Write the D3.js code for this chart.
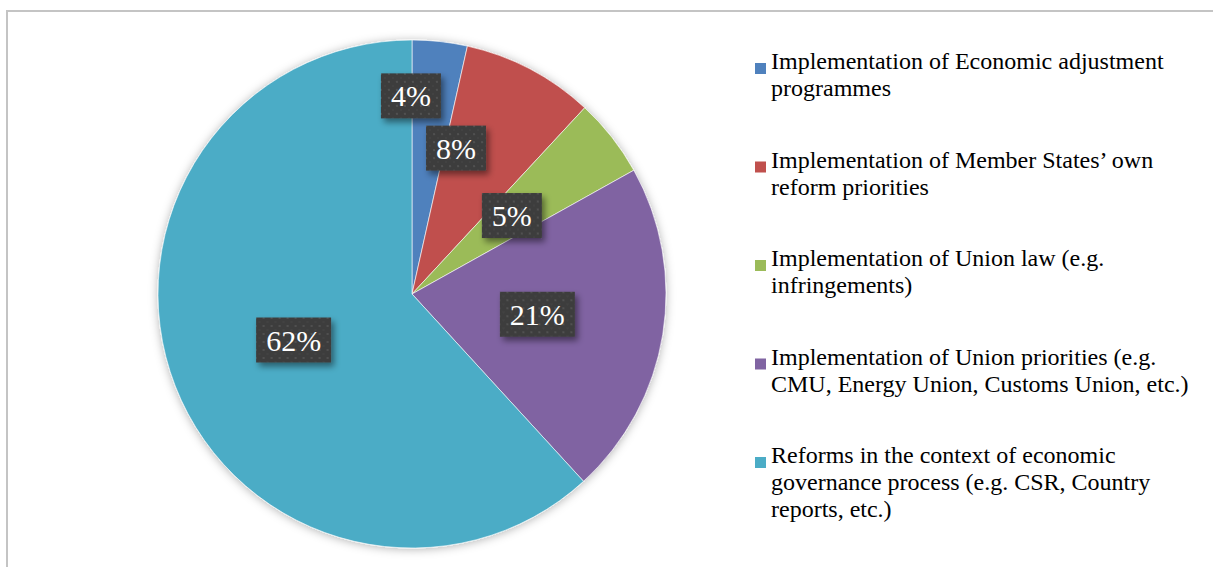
<!DOCTYPE html>
<html>
<head>
<meta charset="utf-8">
<script src="https://cdn.jsdelivr.net/npm/d3@7"></script>
<style>
  html, body { margin: 0; padding: 0; background: #fff; }
  svg { display: block; font-family: "Liberation Serif", "Times New Roman", serif; }
</style>
</head>
<body>
<div id="chart"></div>
<script>
// data
const categories = [
  "Implementation of Economic adjustment programmes",
  "Implementation of Member States\u2019 own reform priorities",
  "Implementation of Union law (e.g. infringements)",
  "Implementation of Union priorities (e.g. CMU, Energy Union, Customs Union, etc.)",
  "Reforms in the context of economic governance process (e.g. CSR, Country reports, etc.)"
];
const shares = [3.5, 8.4, 5.0, 21.3, 61.8];
const colors = ["#4F81BD", "#C0504D", "#9BBB59", "#8064A2", "#4BACC6"];

// excel "best fit" moved the two small labels, others sit at mid angle
const labelPlace = [{ deg: -0.3, f: 0.78 }, { deg: 16.8, f: 0.6 }, null, null, null];

const W = 1213, H = 567;
const cx = 412, cy = 294, R = 254;

const svg = d3.select("#chart").append("svg")
  .attr("width", W)
  .attr("height", H);

const defs = svg.append("defs");

// soft glow round the pie
const pf = defs.append("filter").attr("id", "pieShadow")
  .attr("x", "-10%").attr("y", "-10%").attr("width", "120%").attr("height", "120%");
pf.append("feDropShadow").attr("dx", 0).attr("dy", 1).attr("stdDeviation", 5)
  .attr("flood-color", "#000").attr("flood-opacity", 0.3);

const lf = defs.append("filter").attr("id", "lblShadow")
  .attr("x", "-20%").attr("y", "-30%").attr("width", "150%").attr("height", "170%");
lf.append("feDropShadow").attr("dx", 3).attr("dy", 4).attr("stdDeviation", 3)
  .attr("flood-color", "#000").attr("flood-opacity", 0.45);

// dotted texture of the label boxes
const pat = defs.append("pattern").attr("id", "dots")
  .attr("patternUnits", "userSpaceOnUse").attr("width", 8).attr("height", 8);
pat.append("rect").attr("width", 8).attr("height", 8).attr("fill", "#3d3d3d");
pat.append("circle").attr("cx", 2).attr("cy", 2).attr("r", 1.1).attr("fill", "#555");
pat.append("circle").attr("cx", 6).attr("cy", 6).attr("r", 0.8).attr("fill", "#4a4a4a");

// chart frame (only top & left edges are in the picture)
svg.append("path")
  .attr("d", `M7,${H} V11 H${W}`)
  .attr("fill", "none")
  .attr("stroke", "#c4c4c4")
  .attr("stroke-width", 2);

const pie = d3.pie().sort(null).value(d => d);
const arcs = pie(shares);
const arc = d3.arc().innerRadius(0).outerRadius(R);

const g = svg.append("g").attr("transform", `translate(${cx},${cy})`);

g.append("g").attr("filter", "url(#pieShadow)")
  .selectAll("path")
  .data(arcs)
  .join("path")
  .attr("d", arc)
  .attr("fill", (d, i) => colors[i])
  .attr("stroke", "#fff")
  .attr("stroke-width", 0.6);

// data labels
const fmt = d => Math.round(d) + "%";
const lbl = g.selectAll("g.lbl")
  .data(arcs)
  .join("g")
  .attr("class", "lbl")
  .attr("transform", (d, i) => {
    const p = labelPlace[i];
    const a = p ? p.deg * Math.PI / 180 : (d.startAngle + d.endAngle) / 2;
    const r = (p ? p.f : 0.5) * R;
    return `translate(${r * Math.sin(a)},${-r * Math.cos(a)})`;
  });

lbl.each(function(d) {
  const sel = d3.select(this);
  const t = sel.append("text")
    .attr("text-anchor", "middle")
    .attr("dy", "0.35em")
    .attr("font-size", 30)
    .attr("fill", "#fff")
    .text(fmt(d.data));
  const tw = t.node().getComputedTextLength();
  const bw = tw + 20, bh = 45;
  sel.insert("rect", "text")
    .attr("x", -bw / 2).attr("y", -bh / 2)
    .attr("width", bw).attr("height", bh)
    .attr("fill", "url(#dots)")
    .attr("filter", "url(#lblShadow)");
});

// legend
const legX = 755, legY0 = 69, legStep = 98.5, lineH = 27, maxW = 435;
const leg = svg.append("g");

categories.forEach((name, i) => {
  const y = legY0 + i * legStep;
  leg.append("rect")
    .attr("x", legX).attr("y", y - 6)
    .attr("width", 11).attr("height", 11)
    .attr("fill", colors[i]);

  const txt = leg.append("text")
    .attr("x", legX + 16)
    .attr("y", y)
    .attr("dy", "0.35em")
    .attr("font-size", 24)
    .attr("fill", "#000");

  // wrap words
  const words = name.split(" ");
  let line = [];
  let ts = txt.append("tspan").attr("x", legX + 16).attr("dy", 0);
  words.forEach(w => {
    line.push(w);
    ts.text(line.join(" "));
    if (ts.node().getComputedTextLength() > maxW && line.length > 1) {
      line.pop();
      ts.text(line.join(" "));
      line = [w];
      ts = txt.append("tspan").attr("x", legX + 16).attr("dy", lineH).text(w);
    }
  });
});
</script>
</body>
</html>
